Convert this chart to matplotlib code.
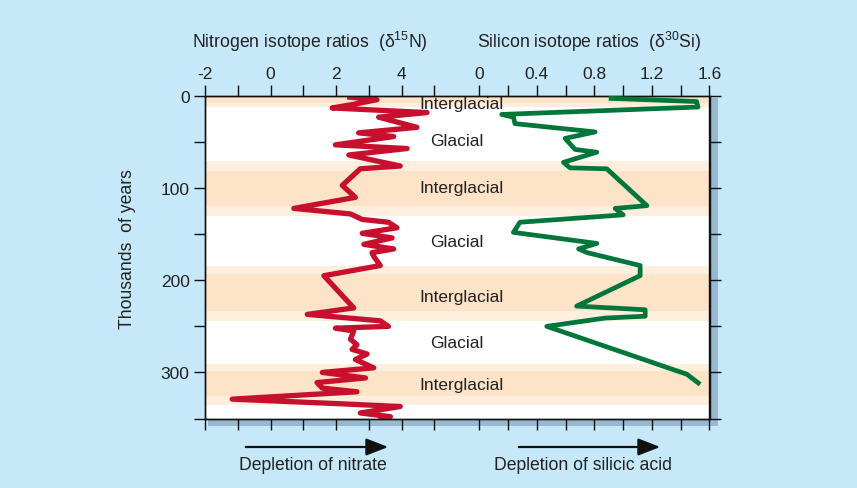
import matplotlib.pyplot as plt
import matplotlib.transforms as mtransforms
from matplotlib.patches import Rectangle, FancyArrowPatch

plt.rcParams['font.family'] = ['Liberation Sans', 'DejaVu Sans']
plt.rcParams['mathtext.default'] = 'regular'
plt.rcParams['axes.unicode_minus'] = False

# nitrogen isotope record (thousands of years, d15N)
n_age = [1, 4, 9, 13, 18, 23, 34, 40, 44, 53, 57, 64, 76, 79, 97, 110, 122, 128,
         134, 137, 143, 149, 154, 161, 166, 170, 174, 184, 195, 230, 237, 244,
         250, 252, 255, 264, 270, 275, 280, 286, 295, 300, 306, 311, 317, 321,
         329, 334, 337, 344, 348, 351]
n_val = [2.34, 3.25, 2.54, 1.88, 4.78, 3.3, 4.47, 2.69, 3.76, 1.98, 4.17, 2.39,
         3.96, 2.74, 2.19, 2.59, 0.71, 2.44, 2.8, 3.6, 3.86, 2.8, 3.71, 2.85,
         3.76, 3.1, 3.15, 3.35, 1.63, 2.54, 1.12, 3.35, 3.6, 1.98, 2.54, 2.44,
         2.64, 2.49, 2.95, 2.59, 3.15, 1.58, 2.9, 1.42, 1.58, 2.64, -1.17, 2.13,
         3.96, 2.74, 3.66, 3.3]

# silicon isotope record (thousands of years, d30Si)
si_age = [2.5, 6, 12, 20, 23, 30, 39, 46, 58, 61, 72, 78, 79, 119, 122, 129,
          137, 148, 160, 166, 170, 184, 195, 228, 232, 239, 241, 250, 302, 313]
si_val = [0.90, 1.51, 1.52, 0.156, 0.237, 0.248, 0.805, 0.596, 0.666, 0.817,
          0.585, 0.631, 0.886, 1.165, 0.944, 1.0, 0.283, 0.237, 0.817, 0.69,
          0.75, 1.118, 1.118, 0.677, 1.153, 1.153, 0.874, 0.469, 1.443, 1.535]

# interglacial bands: outer (faded) and core
band_outer = [(0, 12), (70, 130), (184, 244), (291, 335)]
band_core = [(0, 8), (81, 119), (193.5, 233), (298.6, 325.7)]

period_labels = ['Interglacial', 'Glacial', 'Interglacial', 'Glacial',
                 'Interglacial', 'Glacial', 'Interglacial']
period_age = [8.5, 48, 99, 158, 218, 267, 313]

bg = '#c6e8f8'
W, H = 857, 489
fig = plt.figure(figsize=(W / 100, H / 100), dpi=100, facecolor=bg)

x0, x1, y0, y1 = 205, 709.5, 97, 419.5
ax = fig.add_axes([x0 / W, 1 - y1 / H, (x1 - x0) / W, (y1 - y0) / H])
ax.set_zorder(2)

# drop shadow
fig.patches.append(Rectangle(((x0 + 3) / W, 1 - (y1 + 7) / H), (x1 - x0 + 5) / W,
                             (y1 - y0 + 5) / H, transform=fig.transFigure,
                             facecolor='#97b8cf', edgecolor='none', zorder=1))

n_per_px = 7 / (434.3 - 205)
si_per_px = 1.6 / (709.5 - 479.3)
ax.set_xlim(-2, -2 + (x1 - x0) * n_per_px)
ax.set_ylim(350, 0)

for (a, b) in band_outer:
    ax.axhspan(a, b, color='#fdeedd', lw=0, zorder=0)
for (a, b) in band_core:
    ax.axhspan(a, b, color='#fde3c8', lw=0, zorder=0)

ax2 = ax.twiny()
ax2.set_xlim(-(479.3 - x0) * si_per_px, 1.6)

ax.plot(n_val, n_age, color='#c8102e', lw=3.8, solid_joinstyle='round',
        solid_capstyle='butt', zorder=3)
ax2.plot(si_val, si_age, color='#00763a', lw=3.4, solid_joinstyle='round',
         solid_capstyle='butt', zorder=3)

trans = mtransforms.blended_transform_factory(ax.transAxes, ax.transData)
for lab, a in zip(period_labels, period_age):
    xc = 0.508 if lab == 'Interglacial' else 0.5
    ax2.text(xc, a, lab, transform=trans, ha='center', va='center',
             fontsize=12.5, color='#222222', zorder=4)

tk = dict(direction='out', length=8, width=1, colors='#111111',
          labelcolor='#222222', labelsize=12.5, pad=3)
ax.set_xticks([-2, 0, 2, 4])
ax.set_xticks([-1, 1, 3, 5], minor=True)
ax.xaxis.set_ticks_position('both')
ax.tick_params(axis='x', which='both', top=True, bottom=True, labeltop=True,
               labelbottom=False, **tk)
ax2.set_xticks([0, 0.4, 0.8, 1.2, 1.6])
ax2.set_xticklabels(['0', '0.4', '0.8', '1.2', '1.6'])
ax2.set_xticks([0.2, 0.6, 1.0, 1.4], minor=True)
ax2.tick_params(axis='x', which='both', top=True, bottom=True, labeltop=True,
                labelbottom=False, **tk)
ax.set_yticks([0, 100, 200, 300])
ax.set_yticks([50, 150, 250, 350], minor=True)
ax.tick_params(axis='y', which='both', left=True, right=True, labelleft=True,
               labelright=False, **tk)
for a_ in (ax, ax2):
    for s in a_.spines.values():
        s.set_color('#111111')
        s.set_linewidth(1)

fig.text(310 / W, 1 - 42 / H, r'Nitrogen isotope ratios  ($\delta^{15}$N)',
         ha='center', va='center', fontsize=12.7, color='#222222')
fig.text(589 / W, 1 - 42 / H, r'Silicon isotope ratios  ($\delta^{30}$Si)',
         ha='center', va='center', fontsize=12.7, color='#222222')
fig.text(127 / W, 1 - 249 / H, 'Thousands  of years', rotation=90,
         ha='center', va='center', fontsize=12.7, color='#222222')

for xs, xe, lab, xl in [(243, 391, 'Depletion of nitrate', 312.5),
                        (516, 663, 'Depletion of silicic acid', 583)]:
    fig.patches.append(FancyArrowPatch((xs / W, 1 - 448 / H), (xe / W, 1 - 448 / H),
                                       transform=fig.transFigure,
                                       arrowstyle='-|>,head_length=0.9,head_width=0.35',
                                       mutation_scale=15, lw=1.6, color='#111111'))
    fig.text(xl / W, 1 - 466 / H, lab, ha='center', va='center',
             fontsize=12.7, color='#222222')

fig.savefig('out.png', dpi=100, facecolor=bg)
